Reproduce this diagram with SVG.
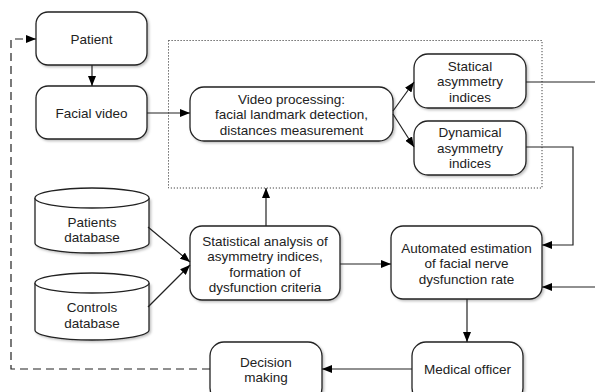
<svg xmlns="http://www.w3.org/2000/svg" width="595" height="392" viewBox="0 0 595 392">
<defs>
<marker id="ah" viewBox="0 0 10 8" refX="10" refY="4" markerWidth="10" markerHeight="8" markerUnits="userSpaceOnUse" orient="auto">
<path d="M0,0 L10,4 L0,8 Z" fill="#000"/>
</marker>
<filter id="sh" x="-10%" y="-10%" width="130%" height="130%">
<feDropShadow dx="1.5" dy="1.5" stdDeviation="1" flood-color="#000" flood-opacity="0.25"/>
</filter>
</defs>
<style>
.box{fill:#fff;stroke:#222;stroke-width:1.3;filter:url(#sh)}
.cyl{fill:#fff;stroke:#222;stroke-width:1.3}
.t{font-family:"Liberation Sans",Arial,sans-serif;font-size:13.5px;fill:#222;text-anchor:middle}
.c{fill:none;stroke:#222;stroke-width:1.2}
.dash{fill:none;stroke:#222;stroke-width:1.2;stroke-dasharray:8 5}
.dot{fill:none;stroke:#444;stroke-width:1;stroke-dasharray:1.2 1.8}
</style>
<rect width="595" height="392" fill="#fff"/>
<rect class="dot" x="168.5" y="40.5" width="373.5" height="147.5"/>
<g id="patient"><rect class="box" x="36" y="12" width="111" height="53" rx="12"/><text class="t" x="91.5" y="43.5">Patient</text></g>
<g id="facial-video"><rect class="box" x="36" y="86" width="111" height="53" rx="12"/><text class="t" x="91.5" y="117.5">Facial video</text></g>
<g id="video-processing"><rect class="box" x="190" y="87" width="203" height="54" rx="14"/>
<text class="t" x="291.5" y="103.5">Video processing:</text><text class="t" x="291.5" y="119">facial landmark detection,</text><text class="t" x="291.5" y="134.5">distances measurement</text></g>
<g id="statical"><rect class="box" x="414" y="54" width="112" height="54" rx="14"/>
<text class="t" x="470" y="70.5">Statical</text><text class="t" x="470" y="86">asymmetry</text><text class="t" x="470" y="101.5">indices</text></g>
<g id="dynamical"><rect class="box" x="414" y="121" width="112" height="54" rx="14"/>
<text class="t" x="470" y="137">Dynamical</text><text class="t" x="470" y="152.5">asymmetry</text><text class="t" x="470" y="168">indices</text></g>
<g id="patients-db">
<path class="cyl" d="M35,198 L35,243 A57,10 0 0 0 149,243 L149,198" style="filter:url(#sh)"/>
<ellipse class="cyl" cx="92" cy="198" rx="57" ry="10"/>
<text class="t" x="92" y="226.5">Patients</text><text class="t" x="92" y="242">database</text></g>
<g id="controls-db">
<path class="cyl" d="M35,283 L35,330 A57,10 0 0 0 149,330 L149,283" style="filter:url(#sh)"/>
<ellipse class="cyl" cx="92" cy="283" rx="57" ry="10"/>
<text class="t" x="92" y="312">Controls</text><text class="t" x="92" y="327.5">database</text></g>
<g id="statistical"><rect class="box" x="190" y="226" width="150" height="74" rx="12"/>
<text class="t" x="265" y="245.5">Statistical analysis of</text><text class="t" x="265" y="261">asymmetry indices,</text><text class="t" x="265" y="276.5">formation of</text><text class="t" x="265" y="292">dysfunction criteria</text></g>
<g id="automated"><rect class="box" x="391" y="226" width="151" height="73" rx="12"/>
<text class="t" x="466.5" y="252.5">Automated estimation</text><text class="t" x="466.5" y="268">of facial nerve</text><text class="t" x="466.5" y="283.5">dysfunction rate</text></g>
<g id="medical-officer"><rect class="box" x="412" y="342" width="111" height="60" rx="14"/><text class="t" x="467.5" y="373.5">Medical officer</text></g>
<g id="decision-making"><rect class="box" x="210" y="342" width="112" height="60" rx="14"/>
<text class="t" x="266" y="366.5">Decision</text><text class="t" x="266" y="382">making</text></g>
<g id="connectors">
<path class="c" d="M92,65 L92,86" marker-end="url(#ah)"/>
<path class="c" d="M147,113 L190,113" marker-end="url(#ah)"/>
<path class="c" d="M393,111 L414,82" marker-end="url(#ah)"/>
<path class="c" d="M393,114 L414,147" marker-end="url(#ah)"/>
<path class="c" d="M526,82 L595,82"/>
<path class="c" d="M526,147 L573,147 L573,245 L542,245" marker-end="url(#ah)"/>
<path class="c" d="M595,287 L542,287" marker-end="url(#ah)"/>
<path class="c" d="M148,227 L190,262" marker-end="url(#ah)"/>
<path class="c" d="M148,307 L190,265" marker-end="url(#ah)"/>
<path class="c" d="M266,226 L266,188" marker-end="url(#ah)"/>
<path class="c" d="M340,264 L391,264" marker-end="url(#ah)"/>
<path class="c" d="M467,299 L467,342" marker-end="url(#ah)"/>
<path class="c" d="M412,369 L322,369" marker-end="url(#ah)"/>
<path class="dash" d="M210,369 L11,369 L11,39 L36,39" marker-end="url(#ah)"/>
</g>
</svg>
